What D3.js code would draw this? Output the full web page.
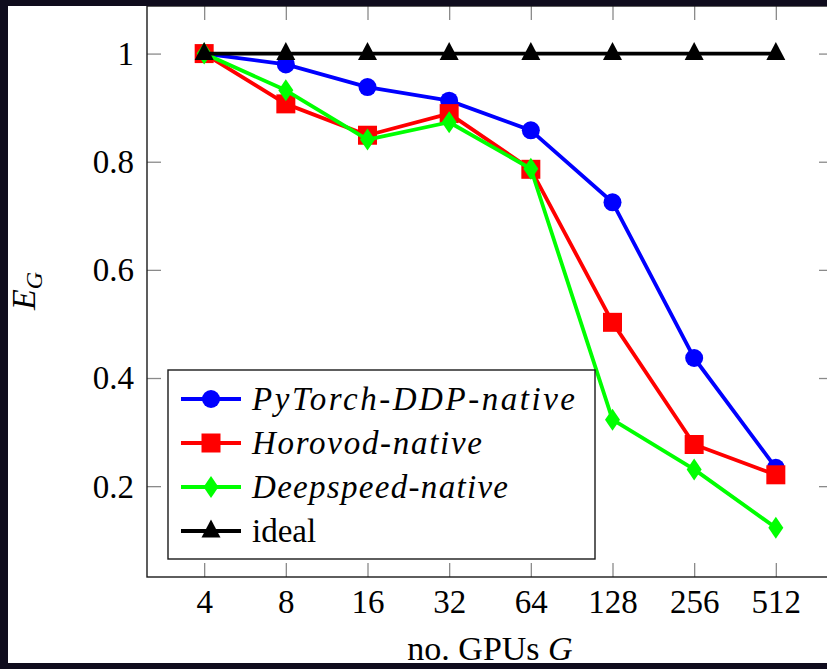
<!DOCTYPE html>
<html>
<head>
<meta charset="utf-8">
<script src="https://cdn.jsdelivr.net/npm/d3@7"></script>
<style>
  body { margin: 0; background: #0f0c1d; }
  svg { display: block; }
</style>
</head>
<body>
<script>
// data
const gpus = [4, 8, 16, 32, 64, 128, 256, 512]
const pytorchDDP = [1.0, 0.98, 0.938, 0.913, 0.858, 0.725, 0.437, 0.234]
const horovod = [1.0, 0.907, 0.849, 0.889, 0.786, 0.503, 0.277, 0.221]
const deepspeed = [1.0, 0.932, 0.841, 0.873, 0.787, 0.323, 0.231, 0.123]
const ideal = [1, 1, 1, 1, 1, 1, 1, 1]
const yTicks = [0.2, 0.4, 0.6, 0.8, 1]
const yTickLabels = ['0.2', '0.4', '0.6', '0.8', '1']

const series = [
  {name: 'PyTorch-DDP-native', values: pytorchDDP, color: '#0000ff', marker: 'circle', italic: true, len: 323},
  {name: 'Horovod-native', values: horovod, color: '#ff0000', marker: 'square', italic: true, len: 230},
  {name: 'Deepspeed-native', values: deepspeed, color: '#00ff00', marker: 'diamond', italic: true, len: 256},
  {name: 'ideal', values: ideal, color: '#000000', marker: 'triangle', italic: false, len: null}
]

const FONT = '"Liberation Serif", "DejaVu Serif", "Times New Roman", serif'
const W = 827, H = 669
const margin = {left: 147, top: 6, right: 833, bottom: 577}

const svg = d3.select('body').append('svg').attr('width', W).attr('height', H)

svg.append('rect').attr('width', W).attr('height', H).attr('fill', '#fff')

const pad = Math.pow(2, 0.7)
const x = d3.scaleLog().base(2)
  .domain([4 / pad, 512 * pad])
  .range([margin.left, margin.right])

const y = d3.scaleLinear()
  .domain([0.032, 1.088])
  .range([margin.bottom, margin.top])

const tickLen = 14
const tickColor = '#8a8a8a'

// ticks (pgfplots style, inside on all four sides)
const bottomAxis = d3.axisBottom(x).tickValues(gpus).tickSize(tickLen).tickFormat(d => d)
const topAxis = d3.axisTop(x).tickValues(gpus).tickSize(tickLen).tickFormat('')
const leftAxis = d3.axisLeft(y).tickValues(yTicks).tickSize(tickLen).tickFormat((d, i) => yTickLabels[i])
const rightAxis = d3.axisRight(y).tickValues(yTicks).tickSize(tickLen).tickFormat('')

const gb = svg.append('g')
  .attr('transform', `translate(0,${margin.bottom})`)
  .call(bottomAxis)
gb.selectAll('.tick line').attr('y2', -tickLen)
gb.selectAll('.tick text').attr('y', 36).attr('dy', 0)

const gt = svg.append('g')
  .attr('transform', `translate(0,${margin.top})`)
  .call(topAxis)
gt.selectAll('.tick line').attr('y2', tickLen)

const gl = svg.append('g')
  .attr('transform', `translate(${margin.left},0)`)
  .call(leftAxis)
gl.selectAll('.tick line').attr('x2', tickLen)
gl.selectAll('.tick text').attr('x', -13).attr('dy', '0.33em')

const gr = svg.append('g')
  .attr('transform', `translate(${margin.right},0)`)
  .call(rightAxis)
gr.selectAll('.tick line').attr('x2', -tickLen)

svg.selectAll('.domain').remove()
svg.selectAll('.tick line').attr('stroke', tickColor).attr('stroke-width', 1.3)
svg.selectAll('g').attr('font-family', null).attr('font-size', null)
svg.selectAll('.tick text')
  .attr('fill', '#000')
  .style('font-family', FONT)
  .style('font-size', '33px')

svg.append('rect')
  .attr('x', margin.left).attr('y', margin.top)
  .attr('width', margin.right - margin.left).attr('height', margin.bottom - margin.top)
  .attr('fill', 'none').attr('stroke', '#1a1a1a').attr('stroke-width', 1.4)

// marker shapes
const markerPath = type => {
  if (type === 'circle') return d3.symbol(d3.symbolCircle, Math.PI * 9 * 9)()
  if (type === 'square') return d3.symbol(d3.symbolSquare, 19 * 19)()
  if (type === 'diamond') return 'M0,-11L7.5,0L0,11L-7.5,0Z'
  return 'M0,-11.5L9.5,6.5L-9.5,6.5Z'
}

const line = d3.line()
  .x(d => x(d.g))
  .y(d => y(d.v))

series.forEach(s => {
  const pts = gpus.map((g, i) => ({g: g, v: s.values[i]}))
  const grp = svg.append('g')
  grp.append('path')
    .datum(pts)
    .attr('d', line)
    .attr('fill', 'none')
    .attr('stroke', s.color)
    .attr('stroke-width', 3.8)
    .attr('stroke-linejoin', 'round')
  grp.selectAll('.mark')
    .data(pts)
    .enter().append('path')
    .attr('class', 'mark')
    .attr('d', markerPath(s.marker))
    .attr('transform', d => `translate(${x(d.g)},${y(d.v)})`)
    .attr('fill', s.color)
})

// legend
const legend = svg.append('g').attr('transform', 'translate(168,370)')
legend.append('rect')
  .attr('width', 427).attr('height', 189)
  .attr('fill', '#fff').attr('stroke', '#1a1a1a').attr('stroke-width', 1.4)

series.forEach((s, i) => {
  const ly = 29 + i * 44
  const row = legend.append('g').attr('transform', `translate(0,${ly})`)
  row.append('line')
    .attr('x1', 13).attr('x2', 73)
    .attr('stroke', s.color).attr('stroke-width', 3.8)
  row.append('path')
    .attr('d', markerPath(s.marker))
    .attr('transform', 'translate(43,0)')
    .attr('fill', s.color)
  const t = row.append('text')
    .attr('x', 84).attr('y', 11)
    .style('font-family', FONT)
    .style('font-size', '33px')
    .style('font-style', s.italic ? 'italic' : 'normal')
    .text(s.name)
  if (s.len) t.attr('textLength', s.len).attr('lengthAdjust', 'spacing')
})

// axis labels
const yl = svg.append('text')
  .attr('transform', 'translate(35,291) rotate(-90)')
  .attr('text-anchor', 'middle')
  .style('font-family', FONT)
  .style('font-size', '34px')
yl.append('tspan').style('font-style', 'italic').text('E')
yl.append('tspan').attr('dy', 7).style('font-style', 'italic').style('font-size', '24px').text('G')

const xl = svg.append('text')
  .attr('x', 490).attr('y', 660)
  .attr('text-anchor', 'middle')
  .style('font-family', FONT)
  .style('font-size', '34px')
xl.append('tspan').text('no. GPUs ')
xl.append('tspan').style('font-style', 'italic').text('G')

// dark frame round the page
const frame = '#0f0c1d'
svg.append('rect').attr('x', 0).attr('y', 0).attr('width', W).attr('height', 6).attr('fill', frame)
svg.append('rect').attr('x', 0).attr('y', 0).attr('width', 8).attr('height', H).attr('fill', frame)
svg.append('rect').attr('x', 0).attr('y', 663).attr('width', W).attr('height', 6).attr('fill', frame)
</script>
</body>
</html>
